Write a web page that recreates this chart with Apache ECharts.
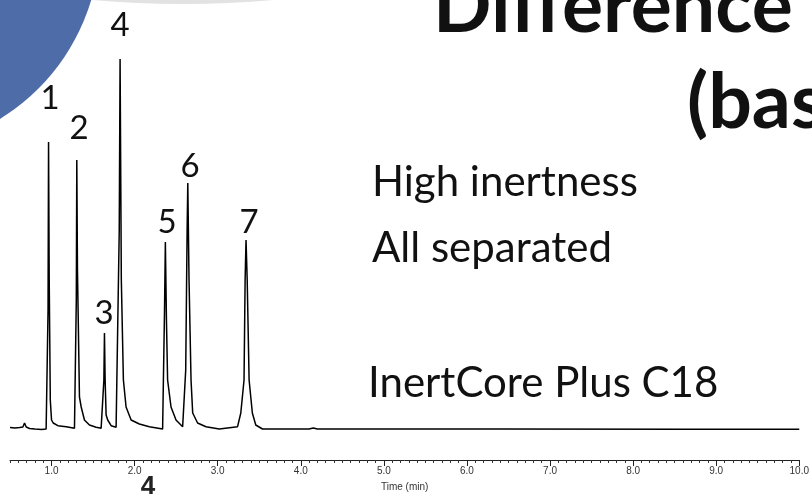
<!DOCTYPE html>
<html><head><meta charset="utf-8">
<script src="https://cdn.jsdelivr.net/npm/echarts@6/dist/echarts.min.js"></script>
<style>html,body{margin:0;padding:0;background:#fff}#c{width:812px;height:499px}</style>
</head><body><div id="c"></div>
<script>
// Chromatogram trace: [time (min), signal (a.u.)]
const traceTime = [0.50,0.56,0.615,0.655,0.675,0.695,0.735,0.80,0.88,0.935,0.945,0.958,0.964,0.972,0.985,1.00,1.02,1.076,1.177,1.276,
  1.290,1.298,1.304,1.312,1.336,1.357,1.396,1.456,1.537,1.597,
  1.612,1.630,1.637,1.645,1.657,1.676,1.717,1.777,
  1.797,1.815,1.825,1.840,1.865,1.897,1.958,2.057,2.177,2.337,
  2.346,2.360,2.370,2.383,2.397,2.438,2.498,2.578,2.602,
  2.615,2.632,2.640,2.655,2.679,2.699,2.758,2.859,3.019,
  3.239,3.278,3.317,3.330,3.341,3.355,3.378,3.417,3.458,3.539,
  4.10,4.15,4.20,6.40,8.60,10.0];
const traceSignal = [2.5,2,2.5,3,7,3,1.5,1,0.5,1,2,120,288,150,30,10,7,4.3,3.3,1.7,
  2,130,270,160,33,23,10,5,2.7,1.7,
  2,50,97,50,15,10,4.3,2.7,
  3,200,371,150,50,23,10,6,3.3,1,
  2,120,188,110,50,23,10,3.3,4,
  60,200,247,150,50,17,7,3.3,1,
  3.3,17,50,150,190,150,50,17,5,1,
  1,2,1,1,0.8,0.8];
const peakNames = ['1','2','3','4','5','6','7'];
const majorTicks = [1,2,3,4,5,6,7,8,9,10];
const axisTitle = 'Time (min)';
const notes = ['High inertness','All separated','InertCore Plus C18'];
const titleLines = ['Difference','(bas'];

const chart = echarts.init(document.getElementById('c'));
const data = traceTime.map((t,i)=>[t,traceSignal[i]]);
const peakPos = [[50,98],[79,128],[104,313],[120,25],[167,222],[190,166],[249,222]];
const numFont = '33px Lato';
chart.setOption({
  animation:false,
  grid:{left:10,right:11,top:0,bottom:39},
  xAxis:[{
    type:'value',min:0.5,max:10,interval:0.1,
    axisLine:{show:true,onZero:false,lineStyle:{color:'#222',width:1}},
    axisTick:{show:true,length:3,lineStyle:{color:'#333',width:1}},
    axisLabel:{show:false},splitLine:{show:false}
  },{
    type:'value',min:0.5,max:10,position:'bottom',
    axisLine:{show:false,onZero:false},
    axisTick:{show:true,length:6,customValues:majorTicks,lineStyle:{color:'#222',width:1}},
    axisLabel:{show:true,customValues:majorTicks,formatter:v=>v.toFixed(1),
      fontFamily:'Liberation Sans',fontSize:10,color:'#333',margin:6},
    splitLine:{show:false},
    name:axisTitle,nameLocation:'middle',nameGap:22,
    nameTextStyle:{fontFamily:'Liberation Sans',fontSize:10,color:'#333'}
  }],
  yAxis:{type:'value',min:-30,max:430,show:false},
  graphic:[
    {type:'circle',shape:{cx:-110,cy:-60,r:210},style:{fill:'#4e6da8'},z:-1},
    {type:'circle',shape:{cx:183,cy:-1006,r:1006},style:{fill:'none',stroke:'#e2e2e2',lineWidth:8},z:-1},
    ...peakNames.map((n,i)=>({type:'text',x:peakPos[i][0],y:peakPos[i][1],
      style:{text:n,font:numFont,fill:'#111',textAlign:'center',textVerticalAlign:'middle'}})),
    {type:'text',x:372,y:182,style:{text:notes[0],font:'42px Lato',fill:'#111',textVerticalAlign:'middle'}},
    {type:'text',x:372,y:248,style:{text:notes[1],font:'42px Lato',fill:'#111',textVerticalAlign:'middle'}},
    {type:'text',x:368,y:383,style:{text:notes[2],font:'42px Lato',fill:'#111',textVerticalAlign:'middle'}},
    {type:'text',x:433,y:46,style:{text:titleLines[0],font:'bold 77px Lato',fill:'#111',textVerticalAlign:'bottom'}},
    {type:'text',x:687,y:142,style:{text:titleLines[1],font:'bold 77px Lato',fill:'#111',textVerticalAlign:'bottom'}},
    {type:'text',x:148,y:487,style:{text:'4',font:'bold 26px Liberation Sans',fill:'#222',textAlign:'center',textVerticalAlign:'middle'}}
  ],
  series:[{type:'line',xAxisIndex:0,data:data,showSymbol:false,symbol:'none',
    lineStyle:{color:'#000',width:1.5},z:3}]
});
</script></body></html>
